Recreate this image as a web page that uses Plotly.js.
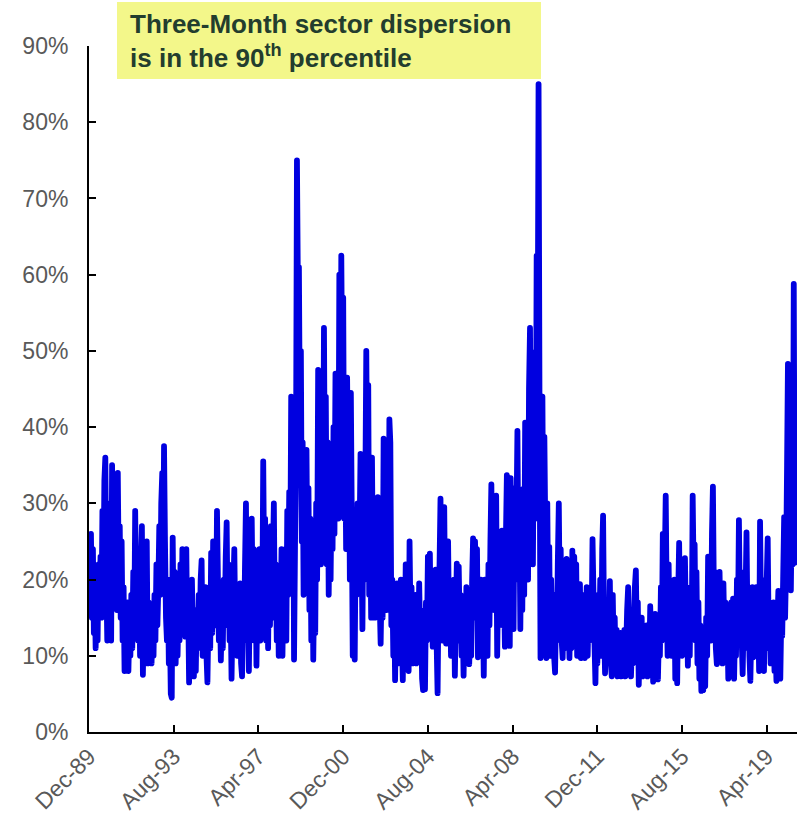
<!DOCTYPE html>
<html><head><meta charset="utf-8">
<script src="https://cdn.plot.ly/plotly-3.0.1.min.js"></script>
<style>
html,body{margin:0;padding:0;background:#fff;}
#chart{width:798px;height:815px;}
.scatterlayer .js-line{stroke-linejoin:round !important;stroke-linecap:round !important;}
</style></head><body><div id="chart"></div>
<script>
// Three-month sector dispersion (%), semi-monthly readings (1st and 16th of each month)
const v1989 = [20, 24]; // Dec only
const v1990 = [26,15,24,13,20,11,18,12,22,16,23,15,29,18,33,36,20,12,25,14,30,12,35,20];
const v1991 = [33,18,30,16,34,21,27,15,25,12,19,8,15,9,17,8,14,10,18,11,21,13,29,18];
const v1992 = [24,12,20,10,22,27,7.5,16,10,20,25,9,17,10,14,9,15,10,18,12,22,14,19,27];
const v1993 = [18,30,34,22,37.5,25,15,12,20,9,14,5,4.5,25.5,12,21,9,18,10,16,12,22,13,24];
const v1994 = [15,20,12.5,24,14,18,6.5,15,10,20,12,7.3,14,8,16,11,18,12,20,22.5,10,17,12,19];
const v1995 = [10,6.5,15,19,11,23.5,13,25,15,21,14,29,20,12,17,9.4,16,11,20,14,23,27.5,15,22];
const v1996 = [12,18,7,15,19,24,13,19,10,17,12,19.5,9,7.3,15,12,22,30,14,20,8,18,12,28];
const v1997 = [16,24,12,22,8.7,18,13,24,12,22,16,35.5,20,28,12,26,11,22,14,27,16,23,30,15];
const v1998 = [22,12,20,10,18,13,24,10,19,14,24,12,29,18,31.5,20,44,28,42,9.5,25,35,75,58];
const v1999 = [61,40,50,25,38,18,30,22,37,20,32,16,28,12,25,9.5,20,13,30,20,47.5,28,46,22];
const v2000 = [35,25,53,30,44,22,38,18,30,20,33,24,40,26,47,30,45,28,60,35,62.5,45,57,28];
const v2001 = [40,24,46.5,30,42,20,44.5,28,10,22,9.5,25,18,30,20,25,36.5,25,13.5,30,20,32,50,32];
const v2002 = [45.5,18,28,15,36,20,30,15,24,17,30.8,22,17,11.6,20,15,38.5,20,37,16,32,20,41,38];
const v2003 = [14,20,10,17,6.8,15,19.5,9,16,12,20,13,6.8,17,10,22,12,18,8,25,14,19,9,16];
const v2004 = [10,18,9,15,11,19.5,12,16,7,5.5,14,5.6,17,12,23,14,23.4,13,21,11.2,18,13,21.3,12];
const v2005 = [5.1,18,22,30.6,16,12,22,29.5,15,11.6,20,25,14,19,10,17,12,20,7.4,15,22.1,12,21.7,14];
const v2006 = [18,10,15,7.4,14,11,19,12,16,8.9,14,10,20,25.4,15,25,18,24,9.8,16,11,20,13,17];
const v2007 = [7.4,20,12,18,10,22,14,25,32.5,18,24,16,28,31,10,20,14,22,16,26.4,14,20,11.2,25];
const v2008 = [33.7,14,28,11.3,33.3,18,30,13.5,32,20,28,39.5,22,30,13.5,28,16,31.9,18,40.6,24,35,20,45];
const v2009 = [53,30,49.8,22,40,47,28,62.5,45,85,40,9.7,30,44,20,38.7,25,9.7,30,15,24.3,10,20,12];
const v2010 = [18,10,7.8,16,12,22,30,16,24,12,9.7,18,11,20,22.7,12,17,9.7,15,11,23.8,14,23,12];
const v2011 = [22,10,17,12,19.4,9.7,15,11,18,9.7,14,19,10,16,12,18,14,25.3,18,12,6.4,15,9,18];
const v2012 = [12,20,10,24,28.4,14,7.7,15,10,17,12,19.8,9,7.3,18,10,15,8,13.4,7.3,12,9,13,7.3];
const v2013 = [12,8,13.4,7.3,11,16,19,9,14,7.3,12,9,15,19,21.2,12,17,6.2,12,9,15,7.3,13,8];
const v2014 = [9,14,7.3,13,9,16.5,11,14,6.6,12,15.5,9,14,6.9,13,10,19,12,26,14,22,31,18,10];
const v2015 = [22,12,19,10,17,12,20,7,15,6.4,18,24.8,13,20,10,18,12,22.8,14,17,8.7,15,10,19];
const v2016 = [12.6,31,20,24.6,12,21,9,17,7,14,5.4,12,5.5,13,6,15,10,23,13,20,12,26,32.2,18];
const v2017 = [21,11,8.9,17,11,21,13,18,9,19.5,12,17,10,15,7,13,9,17,11,17.5,7,14,10,20];
const v2018 = [14,27.8,16,21,12,7.6,15,11,18,26.2,14,19,10,6.7,14,19,9.8,17,12,19,10,16,8,27.6];
const v2019 = [15,20,10,8,16,11,20,25.4,13,17,9,15,11,17,8,12,6.7,14,18.5,10,7,15,12.6,20];
const v2020 = [28.2,15,22,35,48.3,30,40,18.6,30,22,58.8,22.2]; // Jan-Jun

const tickDates = ['1989-12-01','1993-08-01','1997-04-01','2000-12-01','2004-08-01','2008-04-01','2011-12-01','2015-08-01','2019-04-01'];
const tickLabels = ['Dec-89','Aug-93','Apr-97','Dec-00','Aug-04','Apr-08','Dec-11','Aug-15','Apr-19'];
const yTicks = [0,10,20,30,40,50,60,70,80,90];
const yTickLabels = ['0%','10%','20%','30%','40%','50%','60%','70%','80%','90%'];

const series = [
  [1989,12,v1989],[1990,1,v1990],[1991,1,v1991],[1992,1,v1992],[1993,1,v1993],[1994,1,v1994],
  [1995,1,v1995],[1996,1,v1996],[1997,1,v1997],[1998,1,v1998],[1999,1,v1999],[2000,1,v2000],
  [2001,1,v2001],[2002,1,v2002],[2003,1,v2003],[2004,1,v2004],[2005,1,v2005],[2006,1,v2006],
  [2007,1,v2007],[2008,1,v2008],[2009,1,v2009],[2010,1,v2010],[2011,1,v2011],[2012,1,v2012],
  [2013,1,v2013],[2014,1,v2014],[2015,1,v2015],[2016,1,v2016],[2017,1,v2017],[2018,1,v2018],
  [2019,1,v2019],[2020,1,v2020]
];
const xs = [], ys = [];
const pad = n => (n < 10 ? '0' : '') + n;
series.forEach(([yr, m0, vals]) => {
  vals.forEach((v, i) => {
    const m = m0 + Math.floor(i / 2);
    const d = (i % 2) ? 16 : 1;
    xs.push(yr + '-' + pad(m) + '-' + pad(d));
    ys.push(v);
  });
});

const FONT = 'Liberation Sans, Arial, sans-serif';
const trace = {
  x: xs, y: ys, type: 'scatter', mode: 'lines',
  line: {color: '#0000e0', width: 5.8, simplify: false},
  hoverinfo: 'skip'
};
const L = 89, T = 46, W = 798, H = 815, R = 1, B = 83;
const pw = W - L - R, ph = H - T - B;
const px = x => (x - L) / pw;
const py = y => (H - B - y) / ph;

const layout = {
  width: W, height: H,
  margin: {l: L, r: R, t: T, b: B, pad: 0},
  paper_bgcolor: '#ffffff', plot_bgcolor: '#ffffff',
  showlegend: false,
  xaxis: {
    type: 'date', range: ['1989-12-01', '2020-07-22'],
    tickmode: 'array', tickvals: tickDates, ticktext: tickLabels,
    tickangle: -45, ticks: 'inside', ticklen: 7, tickwidth: 2, tickcolor: '#000',
    showline: true, linecolor: '#000', linewidth: 2, showgrid: false, zeroline: false,
    tickfont: {family: FONT, size: 23, color: '#595959'},
    ticklabelstandoff: 0
  },
  yaxis: {
    range: [0, 90], tickmode: 'array', tickvals: yTicks, ticktext: yTickLabels,
    ticks: 'inside', ticklen: 7, tickwidth: 2, tickcolor: '#000',
    showline: true, linecolor: '#000', linewidth: 2, showgrid: false, zeroline: false,
    tickfont: {family: FONT, size: 23, color: '#595959'},
    ticklabelstandoff: 14
  },
  shapes: [{
    type: 'rect', xref: 'paper', yref: 'paper', layer: 'above',
    x0: px(117), x1: px(541), y0: py(79), y1: py(2),
    fillcolor: '#f3f78a', line: {width: 0}
  }],
  annotations: [{
    xref: 'paper', yref: 'paper', x: px(128), y: py(41), xanchor: 'left', yanchor: 'middle',
    align: 'left', showarrow: false,
    text: '<b>Three-Month sector dispersion<br>is in the 90<sup>th</sup> percentile</b>',
    font: {family: FONT, size: 26, color: '#233d2e'}
  }]
};
Plotly.newPlot('chart', [trace], layout, {displayModeBar: false, staticPlot: true});
</script></body></html>
